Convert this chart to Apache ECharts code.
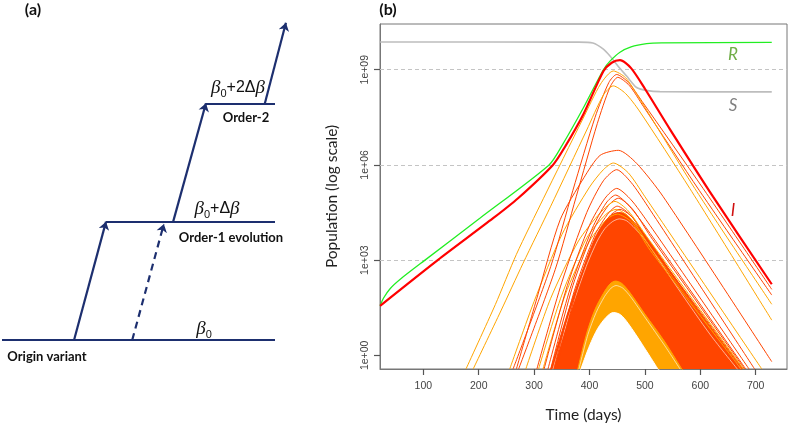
<!DOCTYPE html>
<html><head><meta charset="utf-8">
<script src="https://cdn.jsdelivr.net/npm/echarts@6/dist/echarts.min.js"></script>
<style>html,body{margin:0;padding:0;background:#fff}#c{width:789px;height:428px}</style>
</head><body><div id="c"></div>
<script>
// ---------- Panel (b) data: days vs log10(population) ----------
const tickDays = [100, 200, 300, 400, 500, 600, 700];
const tickLogs = [0, 3, 6, 9];
const gridLogs = [3, 6, 9];

const S_curve = [[22,9.875],[380,9.87],[406,9.84],[425,9.65],[437,9.43],[452,9.1],[467,8.8],[485,8.44],[505,8.34],[527,8.31],[729,8.30]];
const R_curve = [[22,1.56],[28,1.8],[40,2.1],[60,2.42],[103,3.0],[202,4.32],[327,6.0],[350,6.6],[389,7.8],[425,9.0],[437,9.27],[455,9.55],[475,9.72],[503,9.82],[530,9.845],[729,9.86]];
const I_curve = [[22,1.56],[126,3.0],[226,4.32],[271,4.95],[334,6.0],[355,6.55],[389,7.6],[425,8.95],[440,9.22],[455,9.30],[475,9.05],[500,8.4],[545,7.13],[623,5.0],[729,2.24]];

// individual variant trajectories (orange / orangered)
const varA = [[177,-0.43],[230,1.6],[268,3.18],[317,4.95],[388,7.45],[420,8.55],[443,8.96],[465,8.75],[490,8.1],[590,5.26],[729,1.61]];
const varB = [[190,-0.43],[240,1.4],[280,2.9],[330,4.7],[395,7.1],[425,8.2],[443,8.49],[465,8.25],[490,7.7],[581,5.26],[729,1.11]];
const varC1 = [[262,-0.43],[330,2.8],[370,5.2],[410,7.5],[435,8.6],[449,8.85],[470,8.6],[495,8.0],[605,5.26],[729,2.08]];
const varC2 = [[272,-0.43],[338,2.7],[376,5.0],[414,7.3],[437,8.45],[451,8.76],[472,8.5],[497,7.85],[598,5.2],[729,1.9]];
const varD = [[268,-0.43],[305,1.8],[347,4.27],[390,5.6],[419,6.3],[452,6.46],[485,6.05],[533,5.0],[729,-0.2]];
const varE = [[256,-0.43],[300,1.7],[350,3.8],[400,5.3],[425,5.85],[443,6.06],[470,5.75],[500,5.0],[711,-0.43]];
const varF = [[305,-0.43],[350,2.3],[395,4.5],[425,5.5],[449,5.85],[475,5.45],[505,4.7],[698,-0.43]];
const varG = [[318,-0.43],[360,2.2],[400,4.1],[428,4.95],[449,5.26],[475,4.9],[505,4.2],[688,-0.43]];
const varH = [[325,-0.43],[365,2.1],[405,4.0],[430,4.8],[447,5.05],[472,4.7],[505,3.95],[682,-0.43]];
const varH2 = [[285,-0.43],[330,1.8],[380,3.6],[420,4.5],[446,4.85],[470,4.55],[505,3.7],[678,-0.43]];
const varH3 = [[330,-0.43],[370,2.2],[410,4.05],[434,4.72],[452,4.95],[478,4.6],[510,3.75],[680,-0.43]];
const varT1 = [[336,-0.43],[372,2.0],[410,3.8],[435,4.5],[450,4.7],[475,4.4],[510,3.5],[677,-0.43]];
const varT2 = [[340,-0.43],[376,2.0],[413,3.75],[437,4.4],[455,4.6],[480,4.3],[512,3.4],[675,-0.43]];
const varO1 = [[308,-0.43],[350,1.9],[395,3.7],[430,4.45],[448,4.6],[475,4.3],[510,3.4],[676,-0.43]];
const varO2 = [[316,-0.43],[356,1.9],[400,3.6],[432,4.3],[450,4.45],[476,4.2],[510,3.3],[674,-0.43]];

// envelopes of the dense bundles of trajectories
const denseRedTop = [[329,-0.5],[360,1.3],[390,2.8],[410,3.7],[425,4.15],[440,4.42],[452,4.5],[465,4.45],[480,4.2],[500,3.8],[560,2.3],[620,0.85],[675,-0.5]];
const denseOrangeTop = [[378,-0.5],[395,0.7],[410,1.45],[425,1.95],[437,2.25],[447,2.34],[458,2.27],[472,2.0],[500,1.3],[535,0.45],[569,-0.5]];
const emptyCoreTop = [[383,-0.5],[400,0.3],[415,0.85],[430,1.2],[443,1.35],[456,1.28],[470,1.0],[495,0.35],[526,-0.5]];
const gapW1 = [[380,-0.5],[397,0.65],[412,1.35],[427,1.85],[439,2.12],[448,2.2],[460,2.12],[474,1.85],[502,1.15],[536,0.3],[566,-0.5]];
const gapW2 = [[333,-0.5],[364,1.3],[394,2.8],[414,3.6],[428,4.0],[442,4.22],[454,4.3],[467,4.24],[482,4.0],[502,3.6],[560,2.1],[618,0.65],[670,-0.5]];

// ---------- Panel (a) diagram data: x = progression units, y = transmissibility level ----------
const levelLines = [ [[0,0],[100,0]], [[38.1,1],[100,1]], [[74.7,2],[100,2]] ];
const solidArrows = [ [[26.4,0],[38.1,1]], [[62.7,1],[74.7,2]], [[96.3,2],[104,2.68]] ];
const dashedArrows = [ [[47.7,0],[59.3,0.98]] ];

const X_MIN = 21.8, X_MAX = 756.5, Y_MIN = -0.43, Y_MAX = 10.44;

const ORANGE = '#FFA500', ORED = '#FF4500';
const chart = echarts.init(document.getElementById('c'), null, {renderer:'canvas'});

function curve(data, color, width, z) {
  return {type:'line', xAxisIndex:1, yAxisIndex:1, data:data, smooth:0.25, showSymbol:false,
    lineStyle:{color:color, width:width}, z: z || 3, silent:true};
}
function area(data, color, z) {
  return {type:'line', xAxisIndex:1, yAxisIndex:1, data:data, smooth:0.3, showSymbol:false,
    lineStyle:{color:color, width:1}, areaStyle:{color:color, opacity:1, origin:'start'}, z: z, silent:true};
}
const navy = '#1d2f6f';
const axisGray = '#777';

const series = [
  {type:'line', xAxisIndex:1, yAxisIndex:1, data:[[X_MIN,-5]], showSymbol:false, lineStyle:{opacity:0}, z:1,
   markLine:{silent:true, z:1, symbol:'none', label:{show:false}, lineStyle:{type:[4,3], color:'#c4c4c4', width:1},
     data: gridLogs.map(v => ({yAxis:v}))}},
  area(denseRedTop, ORED, 2),
  area(denseOrangeTop, ORANGE, 2),
  area(emptyCoreTop, '#ffffff', 2),
  curve(gapW1, 'rgba(255,255,255,0.85)', 0.7, 2),
  curve(gapW2, 'rgba(255,255,255,0.85)', 0.7, 2),
  curve(varO1, ORANGE, 1), curve(varO2, ORANGE, 1),
  curve(varT1, ORED, 1), curve(varT2, ORED, 1),
  curve(varH3, ORED, 1), curve(varH2, ORANGE, 1), curve(varH, ORED, 1),
  curve(varG, ORED, 1), curve(varF, ORED, 1), curve(varE, ORANGE, 1), curve(varD, ORED, 1),
  curve(varC2, ORED, 1), curve(varC1, ORED, 1), curve(varB, ORANGE, 1), curve(varA, ORANGE, 1),
  curve(S_curve, '#bdbdbd', 1.6, 4),
  curve(R_curve, '#22ee22', 1.3, 4),
  curve(I_curve, '#ff0000', 2.2, 5),
  // panel (a)
  {type:'lines', coordinateSystem:'cartesian2d', xAxisIndex:0, yAxisIndex:0,
   symbol:['none','none'], lineStyle:{color:navy, width:2.2, opacity:1, curveness:0},
   data: levelLines.map(c => ({coords:c})), silent:true},
  {type:'lines', coordinateSystem:'cartesian2d', xAxisIndex:0, yAxisIndex:0,
   symbol:['none','arrow'], symbolSize:8, lineStyle:{color:navy, width:2.2, opacity:1, curveness:0},
   data: solidArrows.map(c => ({coords:c})), silent:true},
  {type:'lines', coordinateSystem:'cartesian2d', xAxisIndex:0, yAxisIndex:0,
   symbol:['none','arrow'], symbolSize:8, lineStyle:{color:navy, width:2.2, opacity:1, type:[7,5], curveness:0},
   data: dashedArrows.map(c => ({coords:c})), silent:true}
];

const betaRich = {
  b:{fontFamily:'Liberation Serif', fontStyle:'italic', fontSize:19, color:'#111', lineHeight:22, verticalAlign:'middle'},
  s:{fontFamily:'Liberation Sans', fontSize:11, color:'#111', lineHeight:22, verticalAlign:'bottom'},
  n:{fontFamily:'Liberation Sans', fontSize:16, color:'#111', lineHeight:22, verticalAlign:'middle'}
};
function txt(x, y, text, extra) {
  return {type:'text', x:x, y:y, silent:true, z:10,
    style:Object.assign({text:text, align:'center', verticalAlign:'middle', fill:'#111'}, extra)};
}
const boldLbl = {font:'bold 13px Lato'};
const tickStyle = {show:true, inside:false, length:6, lineStyle:{color:'#555', width:1.2}};

chart.setOption({
  animation:false,
  backgroundColor:'#ffffff',
  grid:[
    {left:2, top:8.6, width:327.6, height:390.6, show:false},
    {left:380, top:24, width:407, height:348, show:true, borderColor:axisGray, borderWidth:1, backgroundColor:'transparent'}
  ],
  xAxis:[
    {gridIndex:0, type:'value', min:0, max:120, show:false},
    {gridIndex:1, type:'value', min:X_MIN, max:X_MAX,
     axisLine:{show:true, onZero:false, lineStyle:{color:axisGray, width:1}}, splitLine:{show:false},
     axisTick:Object.assign({customValues:tickDays}, tickStyle),
     axisLabel:{customValues:tickDays, fontSize:10.5, color:'#444', margin:12, fontFamily:'Liberation Sans'},
     name:'Time (days)', nameLocation:'middle', nameGap:38,
     nameTextStyle:{fontFamily:'Lato', fontSize:15.5, color:'#222'}}
  ],
  yAxis:[
    {gridIndex:0, type:'value', min:-0.5, max:2.8, show:false},
    {gridIndex:1, type:'value', min:Y_MIN, max:Y_MAX,
     axisLine:{show:true, onZero:false, lineStyle:{color:axisGray, width:1}}, splitLine:{show:false},
     axisTick:Object.assign({customValues:tickLogs}, tickStyle),
     axisLabel:{customValues:tickLogs, rotate:90, fontSize:10.5, color:'#444', margin:9, fontFamily:'Liberation Sans',
       formatter: v => '1e+' + String(Math.round(v)).padStart(2,'0')},
     name:'Population (log scale)', nameLocation:'middle', nameGap:40, nameRotate:90,
     nameTextStyle:{fontFamily:'Lato', fontSize:15.5, color:'#222'}}
  ],
  series: series,
  graphic: [
    txt(33, 10, '(a)', {font:'bold 16px Lato'}),
    txt(388, 10, '(b)', {font:'bold 16px Lato'}),
    txt(238, 88, '{b|β}{s|0}{n|+2Δ}{b|β}', {rich:betaRich}),
    txt(246, 118, 'Order-2', boldLbl),
    txt(217, 209, '{b|β}{s|0}{n|+Δ}{b|β}', {rich:betaRich}),
    txt(231, 238, 'Order-1 evolution', boldLbl),
    txt(204, 329, '{b|β}{s|0}', {rich:betaRich}),
    txt(47, 357, 'Origin variant', boldLbl),
    txt(733, 55, 'R', {font:'italic 17px Lato', fill:'#70AD47'}),
    txt(733, 106, 'S', {font:'italic 17px Lato', fill:'#808080'}),
    txt(733, 211, 'I', {font:'italic 17px Lato', fill:'#D01010'})
  ]
});
</script></body></html>
